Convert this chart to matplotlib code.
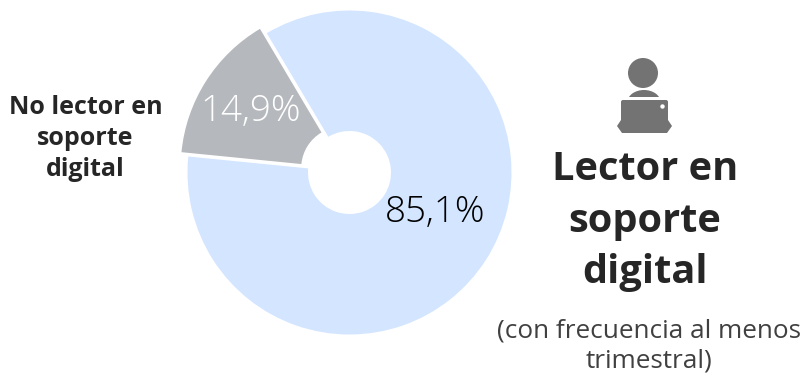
import matplotlib
matplotlib.use("Agg")
import matplotlib.pyplot as plt
from matplotlib.patches import Circle, Polygon, Ellipse, FancyBboxPatch

labels = ["No lector en\nsoporte\ndigital", "Lector en\nsoporte\ndigital"]
values = [14.9, 85.1]
value_labels = ["14,9%", "85,1%"]
colors = ["#B5B8BC", "#D3E5FF"]
note = "(con frecuencia al menos\ntrimestral)"

W, H, DPI = 807, 374, 100
CX, CY, R = 349.5, 172.5, 162.0
plt.rcParams["font.family"] = ["Open Sans", "DejaVu Sans"]
fig = plt.figure(figsize=(W / DPI, H / DPI), dpi=DPI)
ax = fig.add_axes([0, 0, 1, 1])
ax.pie(values, colors=colors, startangle=120.7, explode=[0.05, 0], radius=1,
       wedgeprops=dict(width=1 - 41.5 / R, linewidth=0))
ax.set_aspect("equal")
ax.set_xlim(-CX / R, (W - CX) / R)
ax.set_ylim(-(H - CY) / R, CY / R)
ax.axis("off")

# overlay in pixel coordinates for text and the icon
ov = fig.add_axes([0, 0, 1, 1], facecolor="none")
ov.set_xlim(0, W)
ov.set_ylim(H, 0)
ov.axis("off")

ov.text(251, 111, value_labels[0], color="white", fontsize=26.5, ha="center", va="center", fontweight="light")
ov.text(435.5, 212, value_labels[1], color="black", fontsize=26.5, ha="center", va="center", fontweight="light")
ov.text(85.5, 138.5, labels[0], fontsize=18, fontweight="bold", color="#262626", ha="center", va="center", linespacing=1.34)
ov.text(645, 221, labels[1], fontsize=28.6, fontweight="bold", color="#262626", ha="center", va="center", linespacing=1.42)
ov.text(649, 346, note, fontsize=18.8, color="#404040", ha="center", va="center", linespacing=1.3)

ic = "#737373"
ov.add_patch(Circle((643, 73), 15, color=ic, lw=0))
ov.add_patch(Ellipse((644, 102), 33, 24, color=ic, lw=0))
ov.add_patch(FancyBboxPatch((620, 97), 48, 30, boxstyle="round,pad=0,rounding_size=2", fc="white", ec="white", lw=0))
ov.add_patch(FancyBboxPatch((621, 100), 47, 30, boxstyle="round,pad=0,rounding_size=2", color=ic, lw=0))
ov.add_patch(Polygon([(621, 120), (617, 126), (622, 133), (667, 133), (672, 126), (668, 120)], closed=True, color=ic, lw=0, joinstyle="round"))
ov.add_patch(Circle((662.5, 106.5), 2.2, color="white", lw=0))

fig.savefig("out.png", dpi=DPI)
